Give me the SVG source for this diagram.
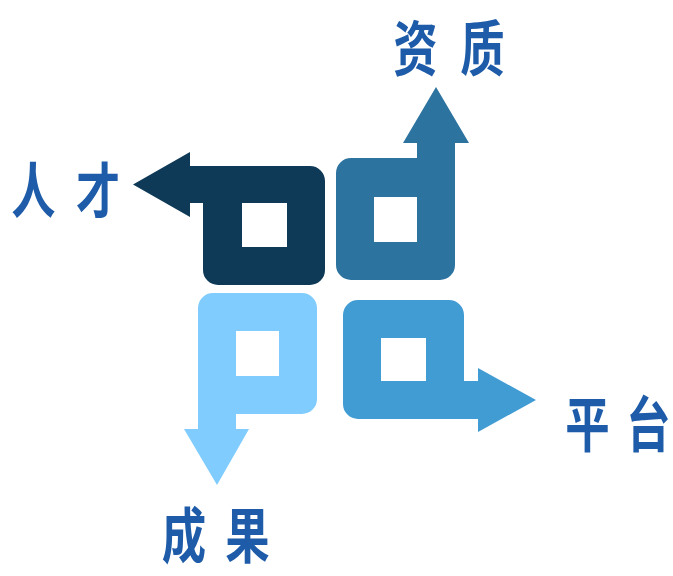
<svg xmlns="http://www.w3.org/2000/svg" width="673" height="576" viewBox="0 0 673 576">
<style>
.lbl{font-family:"Noto Sans CJK SC","Noto Sans",sans-serif;font-weight:700;font-size:60px;fill:#1E5BA8;text-anchor:middle}
.shape{fill-rule:evenodd}
</style>
<rect width="673" height="576" fill="#ffffff"/>
<g id="connectors"></g>
<g id="node-rencai">
<path class="shape" fill="#0F3A57" d="M133,184.5 L190,152 L190,166 L310,166 A15,15 0 0 1 325,181 L325,270 A15,15 0 0 1 310,285 L218,285 A15,15 0 0 1 203,270 L203,203 L190,203 L190,217 Z M242,203 L242,247 L287,247 L287,203 Z"/>
<text class="lbl" transform="translate(33.5,213) scale(0.74,1)">人</text>
<text class="lbl" transform="translate(98,213) scale(0.74,1)">才</text>
</g>
<g id="node-zizhi">
<path class="shape" fill="#2C73A0" d="M436,87 L469,143 L455,143 L455,265 A15,15 0 0 1 440,280 L351,280 A15,15 0 0 1 336,265 L336,173 A15,15 0 0 1 351,158 L417,158 L417,143 L403,143 Z M374,197 L374,242 L417,242 L417,197 Z"/>
<text class="lbl" transform="translate(415.5,71) scale(0.74,1)">资</text>
<text class="lbl" transform="translate(482.5,71) scale(0.74,1)">质</text>
</g>
<g id="node-chengguo">
<path class="shape" fill="#80CCFE" d="M198,429 L198,308 A15,15 0 0 1 213,293 L302,293 A15,15 0 0 1 317,308 L317,399 A15,15 0 0 1 302,414 L236,414 L236,429 L249,429 L217,485 L184,429 Z M236,331 L236,376 L279,376 L279,331 Z"/>
<text class="lbl" transform="translate(184,558) scale(0.74,1)">成</text>
<text class="lbl" transform="translate(247.5,558) scale(0.74,1)">果</text>
</g>
<g id="node-pingtai">
<path class="shape" fill="#429CD4" d="M358,300 L449,300 A15,15 0 0 1 464,315 L464,381 L478,381 L478,368 L536,400 L478,432 L478,419 L358,419 A15,15 0 0 1 343,404 L343,315 A15,15 0 0 1 358,300 Z M381,338 L381,381 L426,381 L426,338 Z"/>
<text class="lbl" transform="translate(587.5,447) scale(0.74,1)">平</text>
<text class="lbl" transform="translate(648.5,447) scale(0.74,1)">台</text>
</g>
</svg>
